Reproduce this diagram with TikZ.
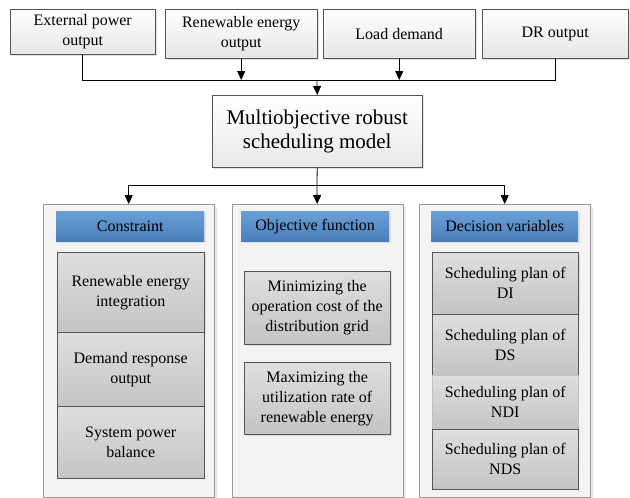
\documentclass[tikz,border=0pt]{standalone}
\usepackage{fontspec}
\setmainfont{Liberation Serif}
\usetikzlibrary{arrows.meta,shadows,positioning}
\definecolor{hdrtop}{HTML}{6A9FD6}
\definecolor{hdrbot}{HTML}{4A7EBB}
\definecolor{itemtop}{HTML}{DEDEDE}
\definecolor{itembot}{HTML}{C4C4C4}
\definecolor{itemline}{HTML}{555555}
\definecolor{panelfill}{HTML}{F3F3F3}
\definecolor{panelline}{HTML}{9A9A9A}
\tikzset{
  x=1pt,y=-1pt,
  base/.style={anchor=north west, align=center, inner sep=0pt, font=\fontsize{16}{20}\selectfont},
  topbox/.style={base, draw=itemline, top color=white, bottom color=black!10, drop shadow={shadow xshift=2pt,shadow yshift=-2pt,fill=black!20,opacity=0.6}},
  mainbox/.style={base, draw=itemline, top color=white, bottom color=black!9, font=\fontsize{21}{24}\selectfont, drop shadow={shadow xshift=2pt,shadow yshift=-2pt,fill=black!20,opacity=0.6}},
  panel/.style={base, draw=panelline, fill=panelfill, drop shadow={shadow xshift=3pt,shadow yshift=-3pt,fill=black!15,opacity=0.6}},
  header/.style={base, top color=hdrtop, bottom color=hdrbot, text=black, drop shadow={shadow xshift=1.5pt,shadow yshift=-1.5pt,fill=black!20,opacity=0.5}},
  itembox/.style={base, draw=itemline, top color=itemtop, bottom color=itembot},
  itemsh/.style={itembox, drop shadow={shadow xshift=2pt,shadow yshift=-2pt,fill=black!20,opacity=0.6}},
  conn/.style={line width=0.8pt, draw=black},
  arr/.style={conn, -{Triangle[width=8pt,length=9pt]}}
}
\begin{document}
\begin{tikzpicture}
\useasboundingbox (0,0) rectangle (630,498);
% top inputs
\node[topbox, minimum width=145, minimum height=45] (ext) at (10,9) {External power\\output};
\node[topbox, minimum width=152, minimum height=49] (ren) at (165,9) {Renewable energy\\output};
\node[topbox, minimum width=152, minimum height=49] (load) at (323,9) {Load demand};
\node[topbox, minimum width=146, minimum height=49] (dr) at (482,9) {DR output};
% main
\node[mainbox, minimum width=210, minimum height=72] (main) at (212,95) {Multiobjective robust\\scheduling model};
% panels
\node[panel, minimum width=171, minimum height=293] (p1) at (43,204) {};
\node[panel, minimum width=171, minimum height=293] (p2) at (231.5,204) {};
\node[panel, minimum width=171, minimum height=293] (p3) at (419,204) {};
% headers
\node[header, minimum width=148, minimum height=30] (h1) at (56,211) {Constraint};
\node[header, minimum width=148, minimum height=30] (h2) at (241,211) {Objective function};
\node[header, minimum width=147, minimum height=30] (h3) at (431,211) {Decision variables};
% panel 1 items
\node[itemsh, minimum width=147, minimum height=80] (c1) at (57,252) {Renewable energy\\integration};
\node[itembox, minimum width=147, minimum height=74] (c2) at (57,332) {Demand response\\output};
\node[itembox, minimum width=147, minimum height=72] (c3) at (57,406) {System power\\balance};
% panel 2 items
\node[itemsh, minimum width=146, minimum height=73] (o1) at (244,271) {Minimizing the\\operation cost of the\\distribution grid};
\node[itemsh, minimum width=146, minimum height=72] (o2) at (244,362) {Maximizing the\\utilization rate of\\renewable energy};
% panel 3 items
\node[itemsh, minimum width=146, minimum height=62] (d1) at (432,252) {Scheduling plan of\\DI};
\node[itembox, minimum width=146, minimum height=61] (d2) at (432,314) {Scheduling plan of\\DS};
\node[itembox, draw=black!25, minimum width=146, minimum height=54] (d3) at (432,375) {Scheduling plan of\\NDI};
\node[itembox, minimum width=146, minimum height=60] (d4) at (432,429) {Scheduling plan of\\NDS};
% connectors top
\coordinate (bus) at (317,80);
\draw[conn] (ext.south) |- (bus);
\draw[conn] (dr.south) |- (bus);
\draw[arr] (ren.south) -- (ren.south |- bus);
\draw[arr] (load.south) -- (load.south |- bus);
\draw[arr] (bus) -- (main.north);
% connectors bottom
\coordinate (bus2) at (317,185);
\draw[conn] (main.south) -- (bus2);
\draw[conn] (p1.north |- bus2) -- (p3.north |- bus2);
\draw[arr] (p1.north |- bus2) -- (p1.north);
\draw[arr] (bus2) -- (p2.north);
\draw[arr] (p3.north |- bus2) -- (p3.north);
\end{tikzpicture}
\end{document}
